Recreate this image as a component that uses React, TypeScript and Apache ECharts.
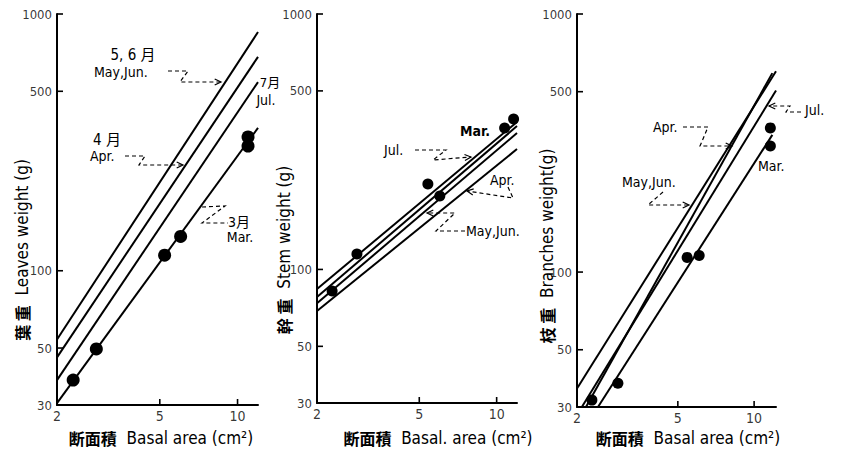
import React, { useEffect, useRef } from "react";
import * as echarts from "echarts";

// ---------- data ----------
const yTickValues = [30, 50, 100, 500, 1000];
const xTickValues = [2, 5, 10];
const lineMonths = ["May,Jun.", "Apr.", "Jul.", "Mar."];

// Leaves weight (panel 1)
const leavesX = [2.31, 2.84, 5.22, 6.02, 10.98, 10.98];
const leavesY = [37.5, 49.6, 115, 136, 306, 332];
const leavesLineStart = [[2, 54], [2, 46], [2, 37.5], [2, 30.5]];
const leavesLineEnd = [[12, 851], [12, 681], [12, 543], [12, 360]];

// Stem weight (panel 2)
const stemX = [2.29, 2.86, 5.4, 6.01, 10.74, 11.64];
const stemY = [82.4, 115, 216, 194, 358, 388];
const stemLineStart = [[2, 73.7], [2, 68.7], [2, 78], [2, 83.8]];
const stemLineEnd = [[12, 342], [12, 296], [12, 364], [12, 378]];

// Branches weight (panel 3)
const branchX = [2.29, 2.9, 5.44, 6.07, 11.59, 11.59];
const branchY = [31.9, 37.1, 114, 116, 362, 308];
const branchLineStart = [[2, 35.4], [2.17, 30], [2.09, 30], [2.42, 30]];
const branchLineEnd = [[12.2, 600], [11.8, 590], [12.2, 505], [11.8, 340]];

const FONT = "'DejaVu Sans Condensed', 'Liberation Sans Narrow', 'DejaVu Sans', 'Noto Sans CJK JP', sans-serif";
const CJK = "'Noto Sans CJK JP', sans-serif";

const panels = [
  { grid: { left: 57, top: 14, width: 201, height: 391 }, xMax: 12, xs: leavesX, ys: leavesY, ls: leavesLineStart, le: leavesLineEnd, dot: 13 },
  { grid: { left: 317, top: 14, width: 200, height: 389 }, xMax: 12, xs: stemX, ys: stemY, ls: stemLineStart, le: stemLineEnd, dot: 11 },
  { grid: { left: 577, top: 14, width: 199, height: 393 }, xMax: 12.2, xs: branchX, ys: branchY, ls: branchLineStart, le: branchLineEnd, dot: 11 },
];

function txt(text: string, x: number, y: number, size = 14, align = "left", extra: any = {}) {
  const { style, ...rest } = extra;
  return {
    type: "text", x, y, silent: true, ...rest,
    style: { text, fontSize: size, fontFamily: FONT, fill: "#000", align, verticalAlign: "middle", ...(style || {}) },
  };
}

function title(cjk: string, latin: string, x: number, y: number, rotation = 0) {
  return {
    type: "text", x, y, rotation, silent: true,
    style: {
      text: `{c|${cjk}}  {l|${latin}}`, align: "center", verticalAlign: "middle", fill: "#000",
      fontSize: 17, fontFamily: FONT,
      rich: {
        c: { fontFamily: CJK, fontSize: 16, fontWeight: "bold", fill: "#000" },
        l: { fontFamily: FONT, fontSize: 17, fill: "#000" },
      },
    },
  };
}

function arrow(pts: number[][], head = true) {
  const els: any[] = [
    { type: "polyline", silent: true, shape: { points: pts }, style: { stroke: "#000", lineWidth: 1.2, lineDash: [4, 3], fill: null } },
  ];
  if (head) {
    const [x1, y1] = pts[pts.length - 2];
    const [x2, y2] = pts[pts.length - 1];
    const a = Math.atan2(y2 - y1, x2 - x1);
    const L = 7, s = 0.45;
    els.push({
      type: "polyline", silent: true,
      shape: { points: [[x2 - L * Math.cos(a - s), y2 - L * Math.sin(a - s)], [x2, y2], [x2 - L * Math.cos(a + s), y2 - L * Math.sin(a + s)]] },
      style: { stroke: "#000", lineWidth: 1.2, fill: null },
    });
  }
  return els;
}

export default function App() {
  const ref = useRef<HTMLDivElement>(null);
  useEffect(() => {
    if (!ref.current) return;
    const chart = echarts.init(ref.current, null, { renderer: "svg" });
    const series: any[] = [];
    panels.forEach((p, i) => {
      p.ls.forEach((s, k) => {
        series.push({
          type: "line", name: lineMonths[k], xAxisIndex: i, yAxisIndex: i, silent: true,
          data: [s, p.le[k]], symbol: "none", lineStyle: { color: "#000", width: 2 }, clip: false,
        });
      });
      series.push({
        type: "scatter", xAxisIndex: i, yAxisIndex: i, silent: true,
        data: p.xs.map((x, k) => [x, p.ys[k]]),
        symbolSize: p.dot, itemStyle: { color: "#000", opacity: 1 },
      });
      // y tick labels
      series.push({
        type: "scatter", xAxisIndex: i, yAxisIndex: i, silent: true, clip: false,
        data: yTickValues.map((v) => [2, v]), symbolSize: 0.01, itemStyle: { color: "transparent" },
        label: { show: true, position: "left", distance: 5, formatter: (d: any) => String(d.value[1]), color: "#000", fontSize: 13, fontFamily: FONT },
      });
      // y ticks
      series.push({
        type: "scatter", xAxisIndex: i, yAxisIndex: i, silent: true, clip: false,
        data: yTickValues.filter((v) => v > 30).map((v) => [2, v]),
        symbol: "rect", symbolSize: [6, 1.6], symbolOffset: [3, 0], itemStyle: { color: "#000", opacity: 1 },
      });
      // x tick labels
      series.push({
        type: "scatter", xAxisIndex: i, yAxisIndex: i, silent: true, clip: false,
        data: xTickValues.map((v) => [v, 30]), symbolSize: 0.01, itemStyle: { color: "transparent" },
        label: { show: true, position: "bottom", distance: 4, formatter: (d: any) => String(d.value[0]), color: "#000", fontSize: 14, fontFamily: FONT },
      });
      // x ticks
      series.push({
        type: "scatter", xAxisIndex: i, yAxisIndex: i, silent: true, clip: false,
        data: xTickValues.filter((v) => v > 2).map((v) => [v, 30]),
        symbol: "rect", symbolSize: [1.6, 6], symbolOffset: [0, -3], itemStyle: { color: "#000", opacity: 1 },
      });
    });

    const axisCommon = {
      type: "log", logBase: 10,
      axisLine: { show: true, lineStyle: { color: "#000", width: 2 } },
      axisTick: { show: false }, axisLabel: { show: false }, splitLine: { show: false },
    };

    const graphic: any[] = [
      // y-axis titles
      title("葉 重", "Leaves weight (g)", 22, 250, Math.PI / 2),
      title("幹 重", "Stem weight (g)", 284, 250, Math.PI / 2),
      title("枝 重", "Branches weight(g)", 547, 246, Math.PI / 2),
      // x-axis titles
      title("断面積", "Basal area (cm²)", 161, 438),
      title("断面積", "Basal. area (cm²)", 438, 438),
      title("断面積", "Basal area (cm²)", 688, 438),
      // panel 1 annotations
      txt("5, 6 月", 133, 55, 15, "center"),
      txt("May,Jun.", 94, 72, 14),
      ...arrow([[168, 71], [188, 71], [180, 82], [221, 82]]),
      txt("4 月", 107, 140, 15, "center"),
      txt("Apr.", 90, 156, 14),
      ...arrow([[125, 156], [145, 156], [139, 165], [183, 165]]),
      txt("7月", 270, 82, 13, "center"),
      txt("Jul.", 266, 100, 14, "center"),
      txt("3月", 239, 222, 14, "center"),
      txt("Mar.", 240, 237, 14, "center"),
      ...arrow([[202, 207], [225, 206], [202, 223], [228, 223]], false),
      // panel 2 annotations
      txt("Mar.", 460, 131, 14, "left", { style: { fontWeight: "bold" } }),
      txt("Jul.", 384, 150, 14),
      ...arrow([[415, 150], [446, 150], [433, 160], [471, 157]]),
      txt("Apr.", 490, 180, 14),
      ...arrow([[508, 187], [513, 198], [467, 191]]),
      txt("May,Jun.", 466, 231, 14),
      ...arrow([[465, 231], [436, 231], [455, 213], [427, 213]]),
      // panel 3 annotations
      txt("Apr.", 653, 127, 14),
      ...arrow([[683, 127], [708, 127], [700, 146], [732, 146]]),
      txt("May,Jun.", 622, 182, 14),
      ...arrow([[663, 192], [648, 205], [689, 205]]),
      txt("Mar.", 758, 166, 14),
      txt("Jul.", 805, 110, 14),
      ...arrow([[801, 112], [786, 112], [790, 106], [769, 106]]),
    ];

    chart.setOption({
      animation: false,
      backgroundColor: "#fff",
      grid: panels.map((p) => ({ ...p.grid, containLabel: false })),
      xAxis: panels.map((p, i) => ({ ...axisCommon, gridIndex: i, min: 2, max: p.xMax })),
      yAxis: panels.map((p, i) => ({ ...axisCommon, gridIndex: i, min: 30, max: 1000 })),
      series,
      graphic,
    });
    return () => chart.dispose();
  }, []);
  return <div ref={ref} style={{ position: "fixed", left: 0, top: 0, width: 844, height: 456 }} />;
}
